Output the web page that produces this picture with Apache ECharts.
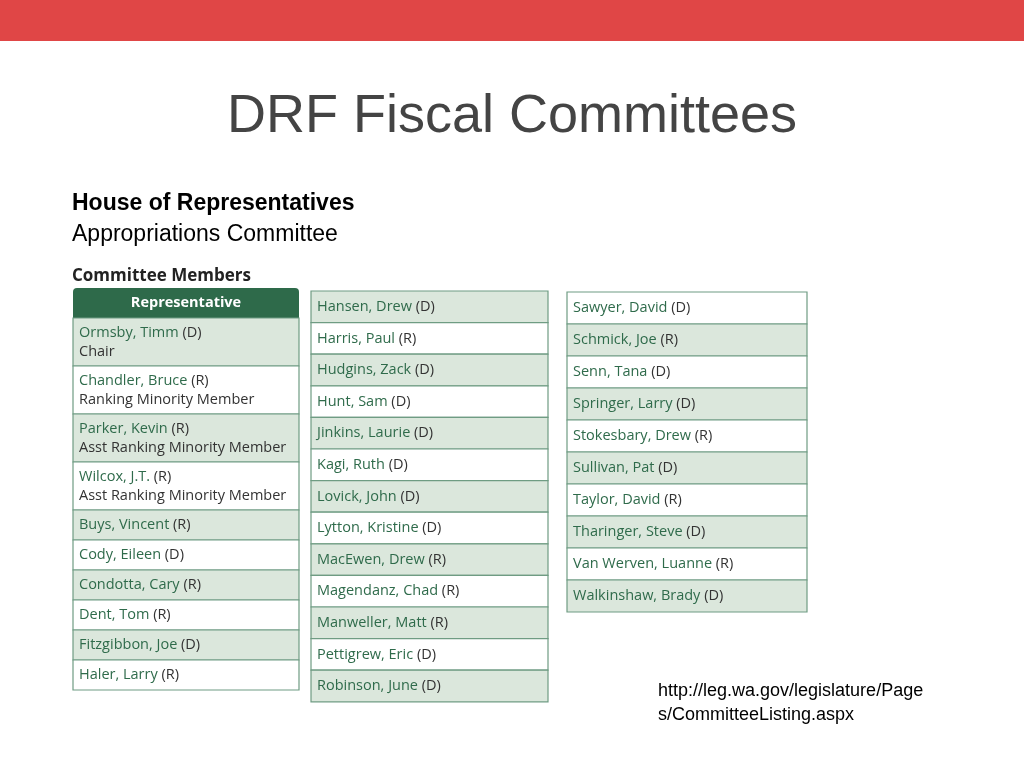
<!DOCTYPE html>
<html><head><meta charset="utf-8">
<script src="https://cdn.jsdelivr.net/npm/echarts@6/dist/echarts.min.js"></script>
<style>html,body{margin:0;padding:0;background:#fff}#main{width:1024px;height:768px}</style>
</head><body><div id="main"></div>
<script>
const title = 'DRF Fiscal Committees'
const subtitle1 = 'House of Representatives'
const subtitle2 = 'Appropriations Committee'
const sourceLines = ['http://leg.wa.gov/legislature/Page', 's/CommitteeListing.aspx']

// first column: name, party, role
const col1Names = ['Ormsby, Timm', 'Chandler, Bruce', 'Parker, Kevin', 'Wilcox, J.T.', 'Buys, Vincent', 'Cody, Eileen', 'Condotta, Cary', 'Dent, Tom', 'Fitzgibbon, Joe', 'Haler, Larry']
const col1Party = ['D', 'R', 'R', 'R', 'R', 'D', 'R', 'R', 'D', 'R']
const col1Roles = ['Chair', 'Ranking Minority Member', 'Asst Ranking Minority Member', 'Asst Ranking Minority Member', '', '', '', '', '', '']
const col2Names = ['Hansen, Drew', 'Harris, Paul', 'Hudgins, Zack', 'Hunt, Sam', 'Jinkins, Laurie', 'Kagi, Ruth', 'Lovick, John', 'Lytton, Kristine', 'MacEwen, Drew', 'Magendanz, Chad', 'Manweller, Matt', 'Pettigrew, Eric', 'Robinson, June']
const col2Party = ['D', 'R', 'D', 'D', 'D', 'D', 'D', 'D', 'R', 'R', 'R', 'D', 'D']
const col3Names = ['Sawyer, David', 'Schmick, Joe', 'Senn, Tana', 'Springer, Larry', 'Stokesbary, Drew', 'Sullivan, Pat', 'Taylor, David', 'Tharinger, Steve', 'Van Werven, Luanne', 'Walkinshaw, Brady']
const col3Party = ['D', 'R', 'D', 'D', 'R', 'D', 'R', 'D', 'R', 'D']

const GREEN = '#2f6b4b', SHADE = '#dbe7dc', LINE = '#6f9c83', DARK = '#333'
const font = '"Open Sans", "Noto Sans", sans-serif'
const rich = {
  n: { fill: GREEN, fontSize: 14.5, fontFamily: font },
  p: { fill: DARK, fontSize: 14.5, fontFamily: font },
  r: { fill: DARK, fontSize: 14.5, fontFamily: font, lineHeight: 19 }
}
const g = []

function cell(x, y, w, h, shaded, text) {
  g.push({ type: 'rect', shape: { x, y, width: w, height: h },
    style: { fill: shaded ? SHADE : '#fff', stroke: LINE, lineWidth: 1.2 } })
  g.push({ type: 'text', x: x + 6, y: y + h / 2,
    style: { text, rich, textVerticalAlign: 'middle', lineHeight: 19, fill: DARK, fontFamily: font, fontSize: 14.5 } })
}

g.push({ type: 'rect', shape: { x: 0, y: 0, width: 1024, height: 41 }, style: { fill: '#e04646' } })
g.push({ type: 'text', x: 512, y: 117, style: { text: title, fill: '#444', fontSize: 54, fontFamily: 'Liberation Sans, Arial', textAlign: 'center', textVerticalAlign: 'middle', letterSpacing: -2 } })
g.push({ type: 'text', x: 72, y: 204, style: { text: subtitle1, fill: '#000', fontSize: 23, fontWeight: 'bold', fontFamily: 'Liberation Sans, Arial', textVerticalAlign: 'middle' } })
g.push({ type: 'text', x: 72, y: 235, style: { text: subtitle2, fill: '#000', fontSize: 23, fontFamily: 'Liberation Sans, Arial', textVerticalAlign: 'middle' } })
g.push({ type: 'text', x: 72, y: 276, style: { text: 'Committee Members', fill: '#222', fontSize: 17, fontWeight: 'bold', fontFamily: font, textVerticalAlign: 'middle' } })
sourceLines.forEach((s, i) => g.push({ type: 'text', x: 658, y: 691 + i * 24, style: { text: s, fill: '#000', fontSize: 18, fontFamily: 'Liberation Sans, Arial', textVerticalAlign: 'middle' } }))

// column 1
g.push({ type: 'rect', shape: { x: 73, y: 288, width: 226, height: 30, r: [4, 4, 0, 0] }, style: { fill: '#2e6a4a' } })
g.push({ type: 'text', x: 186, y: 303, style: { text: 'Representative', fill: '#fff', fontSize: 14.5, fontWeight: 'bold', fontFamily: font, textAlign: 'center', textVerticalAlign: 'middle' } })
let y = 318
col1Names.forEach((n, i) => {
  const h = col1Roles[i] ? 48 : 30
  let t = `{n|${n}} {p|(${col1Party[i]})}`
  if (col1Roles[i]) t += `\n{r|${col1Roles[i]}}`
  cell(73, y, 226, h, i % 2 === 0, t)
  y += h
})
col2Names.forEach((n, i) => cell(311, 291 + i * 31.6, 237, 31.6, i % 2 === 0, `{n|${n}} {p|(${col2Party[i]})}`))
col3Names.forEach((n, i) => cell(567, 292 + i * 32, 240, 32, i % 2 === 1, `{n|${n}} {p|(${col3Party[i]})}`))

const myChart = echarts.init(document.getElementById('main'))
myChart.setOption({ animation: false, graphic: g })
</script></body></html>
